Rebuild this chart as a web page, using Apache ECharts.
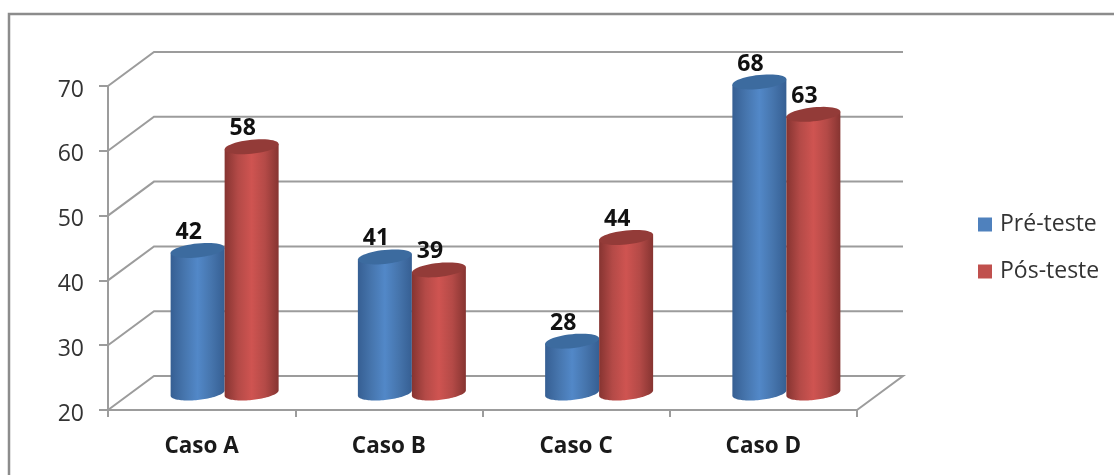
<!DOCTYPE html>
<html>
<head>
<meta charset="utf-8">
<style>html,body{margin:0;padding:0;background:#fff}#chart{width:1114px;height:475px}</style>
<script src="https://cdn.jsdelivr.net/npm/echarts@6/dist/echarts.min.js"></script>
</head>
<body>
<div id="chart"></div>
<script>
const categories = ['Caso A', 'Caso B', 'Caso C', 'Caso D'];
const preTeste = [42, 41, 28, 68];
const posTeste = [58, 39, 44, 63];
const wallTicks = [20, 30, 40, 50, 60, 70];

// Oblique projection of the floor: how far the back wall sits from the front plane.
const DEPTH_X = 46;
const DEPTH_Y = -34;
const RADIUS = 27;
const CAP_RY = 7;
const CAP_TILT = -0.1;
// Value labels sit up and to the left of each cap, following the depth direction.
const LABEL_DX = -9;
const LABEL_DY = -18;
const WALL_COLOR = '#9c9c9c';
const FONT = '"Open Sans", sans-serif';

function shade(edge, inner, mid) {
  return new echarts.graphic.LinearGradient(0, 0, 1, 0, [
    { offset: 0, color: edge },
    { offset: 0.25, color: inner },
    { offset: 0.5, color: mid },
    { offset: 0.75, color: inner },
    { offset: 1, color: edge }
  ]);
}

// Point on the tilted ellipse of a cylinder end, at angle t.
function rim(cx, cy, t) {
  const ex = RADIUS * Math.cos(t);
  const ey = CAP_RY * Math.sin(t);
  return [cx + ex, cy + ey + ex * CAP_TILT];
}

// Outline steps for an arc of a cylinder end.
function rimArc(cx, cy, from, to) {
  const pts = [];
  for (let k = 0; k <= 48; k++) {
    pts.push(rim(cx, cy, from + (to - from) * k / 48));
  }
  return pts;
}

// Builds a cylinder series: side = -1 sits left of the category centre, +1 right of it.
function cylinderSeries(name, values, side, body, capColor, legendColor) {
  return {
    name,
    type: 'custom',
    coordinateSystem: 'cartesian2d',
    itemStyle: { color: legendColor },
    data: values.map((v, i) => [i, v]),
    encode: { x: 0, y: 1 },
    z: 3 + (side + 1),
    renderItem(params, api) {
      const i = api.value(0);
      const value = api.value(1);
      const top = api.coord([i, value]);
      const base = api.coord([i, 20]);
      const cx = top[0] + DEPTH_X / 2 + side * RADIUS;
      const yTop = top[1] + DEPTH_Y / 2;
      const yBase = base[1] + DEPTH_Y / 2;
      // Side surface: front half of the top rim is hidden by the cap, bottom rim bulges down.
      const sidePts = [rim(cx, yTop, Math.PI), rim(cx, yTop, 0)]
        .concat(rimArc(cx, yBase, 0, Math.PI));
      const capPts = rimArc(cx, yTop, 0, 2 * Math.PI);
      return {
        type: 'group',
        children: [
          { type: 'polygon', shape: { points: sidePts }, style: { fill: body } },
          { type: 'polygon', shape: { points: capPts }, style: { fill: capColor } },
          {
            type: 'text',
            z2: 10,
            style: {
              x: cx + LABEL_DX, y: yTop + LABEL_DY,
              text: String(value),
              fill: '#111111',
              font: 'bold 23px ' + FONT,
              align: 'center', verticalAlign: 'middle'
            }
          }
        ]
      };
    }
  };
}

// Side wall, back wall and floor lines, placed on the value axis scale.
const wallSeries = {
  type: 'custom',
  coordinateSystem: 'cartesian2d',
  silent: true,
  z: 1,
  data: wallTicks.map(v => [0, v]),
  encode: { y: 1 },
  tooltip: { show: false },
  renderItem(params, api) {
    const value = api.value(1);
    const y = api.coord([0, value])[1];
    const x0 = params.coordSys.x;
    const x1 = x0 + params.coordSys.width;
    const pts = [[x0, y], [x0 + DEPTH_X, y + DEPTH_Y], [x1 + DEPTH_X, y + DEPTH_Y]];
    if (value === wallTicks[0]) pts.push([x1, y]);
    return {
      type: 'polyline',
      shape: { points: pts },
      style: { stroke: WALL_COLOR, lineWidth: 2, fill: 'none' }
    };
  }
};

const chart = echarts.init(document.getElementById('chart'), null, { renderer: 'canvas' });
chart.setOption({
  animation: false,
  backgroundColor: '#ffffff',
  grid: { left: 108, top: 86, width: 749, height: 324, containLabel: false },
  legend: {
    left: 978, top: 213,
    orient: 'vertical',
    itemWidth: 14, itemHeight: 14, itemGap: 24,
    icon: 'rect',
    data: ['Pré-teste', 'Pós-teste'],
    textStyle: { fontFamily: FONT, fontSize: 23, color: '#333333', padding: [3, 0, 0, 3] },
    padding: 0
  },
  xAxis: {
    type: 'category',
    data: categories,
    boundaryGap: true,
    axisLine: { lineStyle: { color: WALL_COLOR, width: 2 } },
    axisTick: { show: true, length: 7, lineStyle: { color: WALL_COLOR, width: 2 } },
    axisLabel: { fontFamily: FONT, fontWeight: 'bold', fontSize: 22.5, color: '#1a1a1a', margin: 25 }
  },
  yAxis: {
    type: 'value',
    min: 20, max: 70, interval: 10,
    splitLine: { show: false },
    axisLine: { show: true, lineStyle: { color: WALL_COLOR, width: 2 } },
    axisTick: { show: true, length: 9, lineStyle: { color: WALL_COLOR, width: 2 } },
    axisLabel: { fontFamily: FONT, fontSize: 23, color: '#333333', margin: 24, verticalAlign: 'top', lineHeight: 8 }
  },
  graphic: [{
    type: 'polyline',
    silent: true,
    shape: { points: [[9, 475], [9, 14], [1114, 14]] },
    style: { stroke: '#8c8c8c', lineWidth: 2.5, fill: 'none' }
  }],
  series: [
    wallSeries,
    cylinderSeries('Pré-teste', preTeste, -1, shade('#365f93', '#4675ad', '#5288c8'), '#3c6b9f', '#4f81bd'),
    cylinderSeries('Pós-teste', posTeste, 1, shade('#863431', '#b44a47', '#cf5451'), '#933b38', '#c0504d')
  ]
});
</script>
</body>
</html>
